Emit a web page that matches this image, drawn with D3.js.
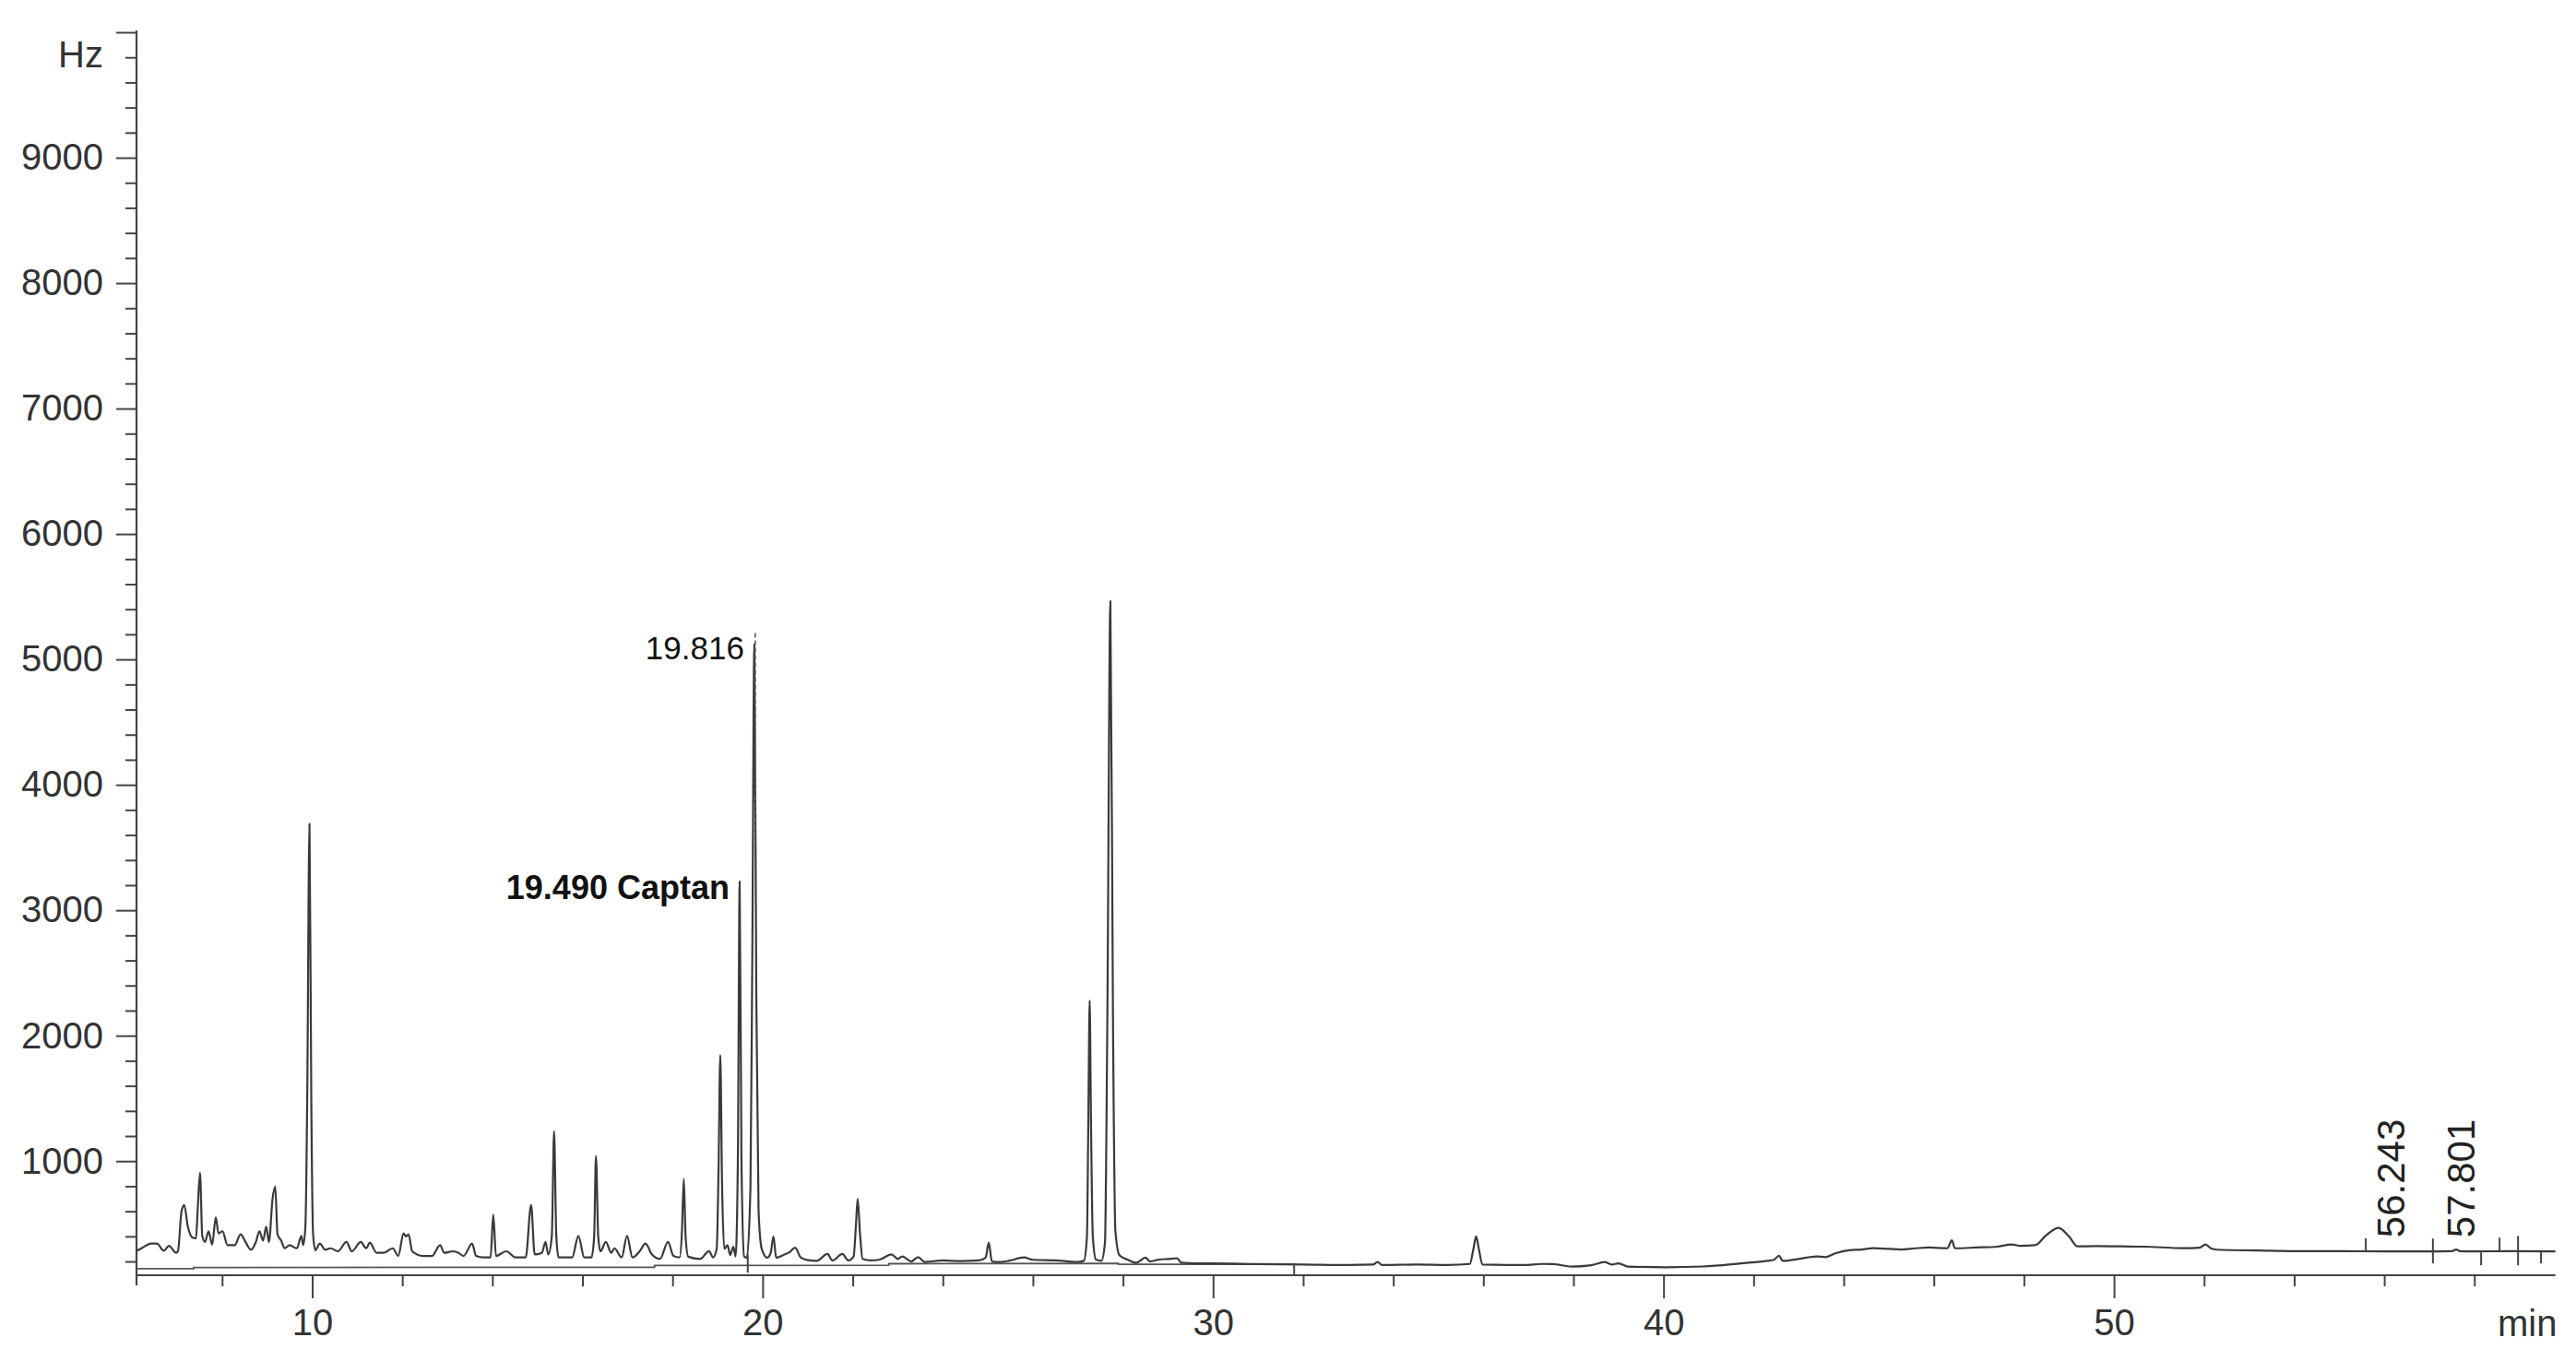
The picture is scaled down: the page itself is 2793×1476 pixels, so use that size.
<!DOCTYPE html>
<html>
<head>
<meta charset="utf-8">
<script src="https://cdnjs.cloudflare.com/ajax/libs/d3/7.8.5/d3.min.js"></script>
<style>
  html, body { margin: 0; padding: 0; background: #fff; }
  svg { display: block; font-family: "Liberation Sans", Arial, sans-serif; }
</style>
</head>
<body>
<svg id="chart" width="2793" height="1476"></svg>
<script>
// detector signal, [retention time (min), Hz]
const traceEarly = [
    [6.10,286],[6.15,293],[6.43,342],[6.55,342],[6.71,286],[6.82,325],[6.98,269],[7.02,281],
    [7.10,600],[7.16,649],[7.24,477],[7.34,391],[7.42,384],[7.46,625],[7.51,907],[7.56,404],
    [7.62,355],[7.70,441],[7.78,335],[7.86,551],[7.92,423],[8.01,441],[8.12,330],[8.28,330],
    [8.41,416],[8.52,355],[8.64,293],[8.75,355],[8.83,441],[8.91,367],[8.98,477],[9.04,355],
    [9.12,698],[9.18,796],[9.23,416],[9.31,367],[9.39,305],[9.50,330],[9.66,305],[9.76,404],
    [9.80,330],[9.85,480],[9.89,1500],[9.94,3690],[9.98,1500],[10.02,420],[10.07,290],
    [10.17,342],[10.29,293],[10.41,305],[10.57,281],[10.76,355],[10.88,281],[11.08,355],
    [11.20,305],[11.28,350],[11.43,269],[11.59,269],[11.79,305],[11.91,244],[12.03,423],
    [12.08,399],[12.14,416],[12.22,281],[12.46,244],[12.66,244],[12.84,330],[12.93,269],
    [13.13,281],[13.25,269],[13.36,244],[13.55,342],[13.64,244],[13.80,232],[13.96,232],
    [14.02,575],[14.08,244],[14.31,281],[14.51,232],[14.74,232],[14.86,649],[14.94,256],
    [15.10,269],[15.18,355],[15.24,256],[15.32,400],[15.37,1238],[15.42,400],[15.47,232],
    [15.61,232],[15.77,232],[15.91,404],[16.04,232],[16.20,232],[16.26,400],[16.30,1042],
    [16.35,400],[16.40,281],[16.52,355],[16.64,269],[16.71,305],[16.87,232],[16.99,404],
    [17.11,232],[17.27,281]
];

const traceMiddle = [
    [17.40,343],[17.54,257],[17.72,220],[17.90,355],[18.02,245],[18.16,233],[18.21,450],
    [18.25,860],[18.29,400],[18.35,238],[18.61,220],[18.81,282],[18.90,233],[18.98,300],
    [19.02,900],[19.06,1845],[19.10,800],[19.15,300],[19.22,330],[19.28,250],[19.35,318],
    [19.40,240],[19.45,1000],[19.49,3230],[19.53,1000],[19.59,240],[19.65,228],[19.73,800],
    [19.77,2600],[19.816,5120],[19.86,2300],[19.91,600],[19.98,300],[20.10,230],[20.18,270],
    [20.24,400],[20.30,230],[20.45,250],[20.60,275],[20.72,310],[20.85,230],[21.00,210],
    [21.20,205],[21.44,260],[21.55,208],[21.77,260],[21.90,208],[22.02,240],[22.07,480],
    [22.11,700],[22.16,430],[22.22,220],[22.40,208],[22.60,215],[22.86,257],[23.00,220],
    [23.10,240],[23.30,200],[23.45,235],[23.60,196],[24.00,208],[24.40,203],[24.80,208],
    [24.95,230],[25.02,350],[25.09,200],[25.30,196],[25.50,208],[25.80,232],[26.00,213],
    [26.50,208],[27.00,196],[27.13,205],[27.20,400],[27.23,1300],[27.26,2280],[27.29,1300],
    [27.33,400],[27.40,215],[27.52,205],[27.60,350],[27.65,2000],[27.72,5465],[27.78,2000],
    [27.83,450],[27.92,250],[28.10,215],[28.30,190],[28.50,230],[28.60,200],[28.80,215],
    [29.00,220],[29.20,225],[29.30,190],[29.60,184],[30.00,184],[31.00,179],[32.00,176],
    [33.00,172],[33.55,175],[33.65,195],[33.75,172]
];

const traceLate = [
    [34.50,175],[35.20,172],[35.70,180],[35.78,300],[35.84,399],[35.90,300],[35.98,175],
    [36.50,172],[36.91,172],[37.30,180],[37.54,179],[37.96,159],[38.40,170],[38.69,195],
    [38.85,175],[39.00,185],[39.21,159],[40.05,154],[40.88,160],[41.72,185],[42.30,205],
    [42.45,213],[42.56,245],[42.65,205],[43.00,220],[43.39,240],[43.60,235],[43.81,265],
    [44.12,290],[44.40,295],[44.65,306],[45.00,300],[45.27,295],[45.60,305],[45.90,311],
    [46.30,305],[46.40,368],[46.47,305],[46.94,311],[47.40,318],[47.73,336],[47.90,325],
    [48.25,330],[48.50,410],[48.77,468],[49.00,400],[49.19,320],[49.60,322],[50.16,320],
    [50.68,318],[51.52,306],[51.90,310],[52.03,336],[52.15,305],[52.28,294],[53.20,287],
    [54.05,282],[55.00,282],[56.00,280],[57.00,280],[57.50,282],[57.60,295],[57.68,282],
    [58.00,280],[58.80,282],[59.80,280]
];

// integration baseline drawn under the first part of the run
const integrationBaseline = [
    [6.1,142],[7.37,142],[7.37,152],[17.6,154],[17.6,168],[22.8,170],[22.8,182],
    [27.9,184],[27.9,178],[31.8,178]
];

// peak start/stop marks: [time, top Hz, bottom Hz]
const peakMarks = [
    [19.67,257,110],[31.8,180,90],[55.59,385,282],[57.08,382,184],
    [58.15,272,169],[58.56,390,279],[58.97,404,169],[59.48,279,184]
];

const labelTimes = [19.816, 19.490];
const labelTexts = ['19.816', '19.490 Captan'];
const labelHz = [5120, 3230];

const rtTimes = [56.243, 57.801];
const rtTexts = ['56.243', '57.801'];

const xLabels = [10, 20, 30, 40, 50];
const yLabels = [1000, 2000, 3000, 4000, 5000, 6000, 7000, 8000, 9000, 10000];

let svg = d3.select('#chart');
let ink = '#3a3a3a';

let x = d3.scaleLinear().domain([6.1, 59.8]).range([148, 2770.7]);
let y = d3.scaleLinear().domain([90, 10000]).range([1383, 35]);

// ****** axes ****** //
let yMinor = d3.range(200, 10001, 200).filter(function(v){ return v % 1000 !== 0 });
let xMinor = d3.range(8, 60, 2).filter(function(v){ return v % 10 !== 0 });

function styleAxis(g){
    g.select('.domain').remove();
    g.attr('font-size', 40)
        .attr('font-family', '"Liberation Sans", Arial, sans-serif')
        .attr('color', '#333');
    g.selectAll('line').attr('stroke-width', 2).attr('stroke', '#444');
}

svg.append('g')
    .attr('transform', 'translate(148,0)')
    .call(d3.axisLeft(y).tickValues(yMinor).tickSize(12).tickFormat(''))
    .call(styleAxis);
svg.append('g')
    .attr('transform', 'translate(148,0)')
    .call(d3.axisLeft(y).tickValues(yLabels).tickSize(22).tickPadding(14)
        .tickFormat(function(d){ return d < 10000 ? d : '' }))
    .call(styleAxis);

svg.append('g')
    .attr('transform', 'translate(0,1383)')
    .call(d3.axisBottom(x).tickValues(xMinor).tickSize(12).tickFormat(''))
    .call(styleAxis);
svg.append('g')
    .attr('transform', 'translate(0,1383)')
    .call(d3.axisBottom(x).tickValues(xLabels).tickSize(25).tickPadding(12))
    .call(styleAxis);

// axis lines (y line runs a bit below the x axis, like the print)
svg.append('line')
    .attr('x1', 148).attr('x2', 148).attr('y1', 33).attr('y2', 1394)
    .attr('stroke', '#444').attr('stroke-width', 2.2);
svg.append('line')
    .attr('x1', 148).attr('x2', x(59.8)).attr('y1', y(90)).attr('y2', y(90))
    .attr('stroke', '#444').attr('stroke-width', 2.2);

svg.append('text')
    .attr('x', 112).attr('y', 59).attr('dy', '0.35em')
    .attr('text-anchor', 'end').attr('font-size', 40).attr('fill', '#333')
    .text('Hz');

svg.append('clipPath').attr('id', 'edge')
    .append('rect').attr('x', 0).attr('y', 0).attr('width', 2775).attr('height', 1476);
svg.append('text')
    .attr('x', 2708).attr('y', 1449)
    .attr('font-size', 40).attr('fill', '#333')
    .attr('clip-path', 'url(#edge)')
    .text('min');

// ****** baseline + trace ****** //
let line = d3.line()
    .x(function(d){ return x(d[0]) })
    .y(function(d){ return y(d[1]) });

svg.append('path')
    .datum(integrationBaseline)
    .attr('d', line)
    .attr('fill', 'none').attr('stroke', '#555').attr('stroke-width', 1.8);

let trace = traceEarly.concat(traceMiddle, traceLate);
svg.append('path')
    .datum(trace)
    .attr('d', line.curve(d3.curveMonotoneX))
    .attr('fill', 'none').attr('stroke', ink).attr('stroke-width', 2.2)
    .attr('stroke-linejoin', 'round');

svg.selectAll('line.mark')
    .data(peakMarks)
    .enter().append('line')
    .classed('mark', true)
    .attr('x1', function(d){ return x(d[0]) })
    .attr('x2', function(d){ return x(d[0]) })
    .attr('y1', function(d){ return y(d[1]) })
    .attr('y2', function(d){ return y(d[2]) })
    .attr('stroke', '#444').attr('stroke-width', 2);

// dashed apex marker over the 19.816 peak
svg.append('line')
    .attr('x1', x(labelTimes[0]) + 1).attr('x2', x(labelTimes[0]) + 1)
    .attr('y1', y(5210)).attr('y2', y(3500))
    .attr('stroke', '#555').attr('stroke-width', 1.6)
    .attr('stroke-dasharray', '5,3');

// ****** peak labels ****** //
svg.selectAll('text.peak')
    .data(labelTimes)
    .enter().append('text')
    .classed('peak', true)
    .attr('x', function(d){ return x(d) - 11 })
    .attr('y', function(d, i){ return y(labelHz[i]) + (i === 0 ? 16 : 19) })
    .attr('text-anchor', 'end')
    .attr('font-size', function(d, i){ return i === 0 ? 35 : 36 })
    .attr('font-weight', function(d, i){ return i === 0 ? 'normal' : 'bold' })
    .attr('fill', '#111')
    .text(function(d, i){ return labelTexts[i] });

svg.selectAll('text.rt')
    .data(rtTimes)
    .enter().append('text')
    .classed('rt', true)
    .attr('transform', function(d){ return 'translate(' + (x(d) + 10) + ',' + y(390) + ') rotate(-90)' })
    .attr('font-size', 42)
    .attr('fill', '#222')
    .text(function(d, i){ return rtTexts[i] });
</script>
</body>
</html>
